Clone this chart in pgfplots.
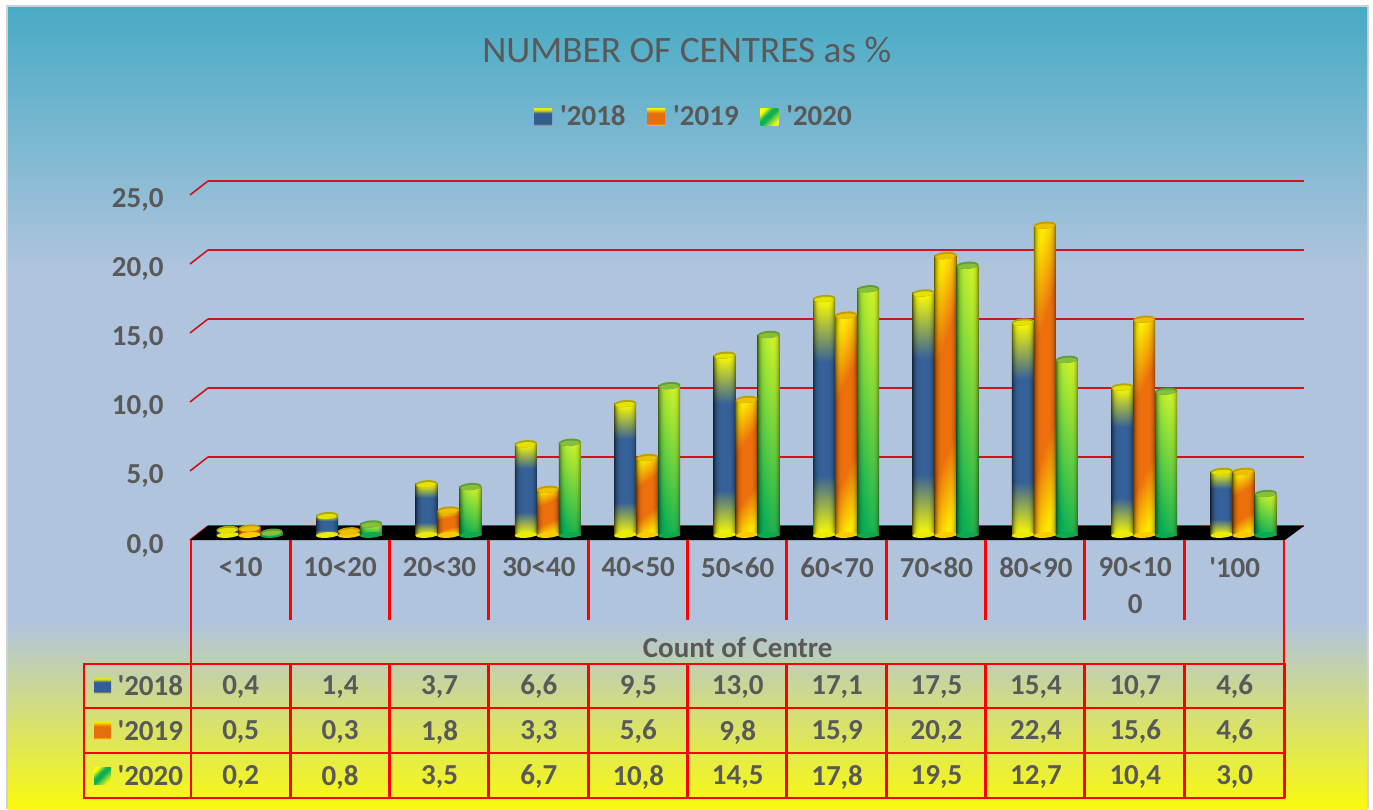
\documentclass[border=0pt]{standalone}
\usepackage{pgfplots}
\usepackage{pgfplotstable}
\usepackage{fontspec}
\pgfplotsset{compat=1.18}
\newfontfamily\carlito{Carlito}
\definecolor{tx}{HTML}{595959}
\definecolor{redl}{HTML}{FF0000}
\definecolor{gridred}{HTML}{D0141E}

\pgfdeclareverticalshading{bgshade}{100bp}{
 rgb(0bp)=(0.98,0.98,0.05);
 rgb(25bp)=(0.98,0.98,0.05);
 rgb(36.6bp)=(0.69,0.77,0.87);
 rgb(58.5bp)=(0.69,0.77,0.87);
 rgb(75bp)=(0.28,0.67,0.77);
 rgb(100bp)=(0.28,0.67,0.77)}

% cylinder bodies: (x,y) -> (r,g,b); the path box is 25..75 of the shading square
\pgfdeclarefunctionalshading{cylA}{\pgfpointorigin}{\pgfpoint{100bp}{100bp}}{}{
 25 sub 2 mul exch 25 sub 2 mul exch
 dup 25 lt {25 div} {dup 73 gt {100 exch sub 27 div} {pop 1} ifelse} ifelse
 exch 50 sub abs 50 div dup mul dup mul 0.55 mul 1 exch sub
 1 index 0.79 mul 1 exch sub 1 index mul
 2 index 0.62 mul 1 exch sub 2 index mul
 3 index 0.6 mul 3 index mul
 5 3 roll pop pop
}
\pgfdeclarefunctionalshading{cylB}{\pgfpointorigin}{\pgfpoint{100bp}{100bp}}{}{
 25 sub 2 mul exch 25 sub 2 mul exch
 1 index 50 sub 0.2 mul sub
 dup 28 lt {28 div} {dup 70 gt {100 exch sub 30 div} {pop 1} ifelse} ifelse
 dup 0 lt {pop 0} {} ifelse
 exch 50 sub abs 50 div dup mul dup mul 0.5 mul 1 exch sub
 1 index 0.07 mul 1 exch sub 1 index mul
 2 index 0.48 mul 0.92 exch sub 2 index mul
 3 index 0.05 mul 3 index mul
 5 3 roll pop pop
}
\pgfdeclarefunctionalshading{cylC}{\pgfpointorigin}{\pgfpoint{100bp}{100bp}}{}{
 25 sub 2 mul exch 25 sub 2 mul exch
 1 index 50 sub 0.3 mul exch 0.9 mul add 100 div
 dup 1 gt {pop 1} {} ifelse
 dup 0 lt {pop 0} {} ifelse
 exch 50 sub abs 50 div dup mul dup mul 0.5 mul 1 exch sub
 1 index 0.8 mul 0.05 add 1 index mul
 2 index 0.28 mul 0.69 add 2 index mul
 3 index -0.18 mul 0.33 add 3 index mul
 5 3 roll pop pop
}
\pgfdeclareverticalshading{keyA}{100bp}{
 rgb(0bp)=(0.8,0.8,0.1); rgb(25bp)=(0.8,0.8,0.1); rgb(30bp)=(0.2,0.36,0.6);
 rgb(62bp)=(0.2,0.36,0.6); rgb(70bp)=(0.85,0.85,0.1); rgb(75bp)=(0.9,0.9,0.1); rgb(100bp)=(0.9,0.9,0.1)}
\pgfdeclareverticalshading{keyB}{100bp}{
 rgb(0bp)=(1,0.85,0); rgb(25bp)=(1,0.85,0); rgb(31bp)=(0.9,0.43,0.05);
 rgb(62bp)=(0.9,0.43,0.05); rgb(75bp)=(1,0.9,0); rgb(100bp)=(1,0.9,0)}
\pgfdeclarehorizontalshading{keyC}{100bp}{
 rgb(0bp)=(1,1,0); rgb(25bp)=(1,1,0); rgb(40bp)=(0.05,0.69,0.33);
 rgb(50bp)=(0.05,0.69,0.33); rgb(75bp)=(0.95,0.97,0.1); rgb(100bp)=(0.95,0.97,0.1)}

% cylinder ends (two-tone tilted ellipses)
\newcommand{\capmark}[3]{\pgfdeclareplotmark{#1}{%
  \pgfsetfillcolor{#2}%
  \pgfpathellipse{\pgfpointorigin}{\pgfpoint{11pt}{0.8pt}}{\pgfpoint{-0.25pt}{3.6pt}}\pgfusepathqfill
  \pgfsetfillcolor{#3}%
  \pgfpathellipse{\pgfpoint{0pt}{-0.9pt}}{\pgfpoint{9.5pt}{0.7pt}}{\pgfpoint{-0.2pt}{2.5pt}}\pgfusepathqfill}}
\newcommand{\basemark}[2]{\pgfdeclareplotmark{#1}{%
  \pgfsetfillcolor{#2}%
  \pgfpathellipse{\pgfpointorigin}{\pgfpoint{11pt}{0.8pt}}{\pgfpoint{-0.2pt}{2.8pt}}\pgfusepathqfill}}
\definecolor{capAb}{HTML}{ABA80F}\definecolor{capAf}{HTML}{E6E200}
\definecolor{capBb}{HTML}{C89A00}\definecolor{capBf}{HTML}{EBC200}
\definecolor{capCb}{HTML}{5F9E35}\definecolor{capCf}{HTML}{86BF3C}
\definecolor{baseAc}{HTML}{EDEB05}\definecolor{baseBc}{HTML}{F8CC00}\definecolor{baseCc}{HTML}{12A850}
\capmark{capA}{capAb}{capAf}
\capmark{capB}{capBb}{capBf}
\capmark{capC}{capCb}{capCf}
\basemark{baseA}{baseAc}
\basemark{baseB}{baseBc}
\basemark{baseC}{baseCc}

\pgfplotstableread{
x  a    b    c    z
0  0.4  0.5  0.2  0
1  1.4  0.3  0.8  0
2  3.7  1.8  3.5  0
3  6.6  3.3  6.7  0
4  9.5  5.6  10.8 0
5  13.0 9.8  14.5 0
6  17.1 15.9 17.8 0
7  17.5 20.2 19.5 0
8  15.4 22.4 12.7 0
9  10.7 15.6 10.4 0
10 4.6  4.6  3.0  0
}\data

\newcommand{\bigf}{\bfseries\fontsize{29}{37}\selectfont}
\newcommand{\tval}[2]{\foreach \v [count=\i from 0] in {#2}{\node[text=tx,font=\bigf] at (240.7+99.4*\i,#1) {\v};}}

\begin{document}\carlito
\begin{tikzpicture}
\path[use as bounding box] (0pt,0pt) rectangle (1373pt,-809pt);
\fill[white] (0pt,0pt) rectangle (1373pt,-809pt);
\begin{scope}[x=1pt,y=-1pt]
\fill[black!18] (6,5) rectangle (1369,809);
\shade[shading=bgshade] (8,7) rectangle (1367,809);
\end{scope}

% back wall with its gridlines
\begin{axis}[
  at={(207.5pt,-526pt)}, anchor=south west, scale only axis,
  width=1096pt, height=345pt,
  xmin=0, xmax=1, ymin=0, ymax=25,
  axis line style={draw=none}, xtick=\empty, ytick={0,5,...,25},
  yticklabels={}, major tick length=0pt,
  ymajorgrids, grid style={gridred,line width=1.8pt},
]
\addplot[draw=none,forget plot] coordinates {(0,0) (1,25)};
\end{axis}

\begin{scope}[x=1pt,y=-1pt]
\foreach \v in {0,69,138,207,276,345}{
  \draw[gridred,line width=1.6pt] (190,540-\v) -- (208,526-\v);}
\fill[black] (190,540) -- (208,526) -- (1304,526) -- (1285,540) -- cycle;
\end{scope}

% the cylinders
\begin{axis}[
  at={(191pt,-535pt)}, anchor=south west, scale only axis, clip=false,
  width=1093.4pt, height=345.75pt,
  xmin=-0.59, xmax=10.41, ymin=0, ymax=25,
  axis line style={draw=none}, major tick length=0pt,
  ytick={0,5,...,25},
  yticklabel style={text=tx,font=\bigf,xshift=-24pt,yshift=-10.5pt,
    /pgf/number format/.cd,fixed,fixed zerofill,precision=1,use comma,assume math mode=true},
  xtick={-0.09,0.91,1.91,2.91,3.91,4.91,5.91,6.91,7.91,8.91,9.91},
  xticklabels={{<10},{10<20},{20<30},{30<40},{40<50},{50<60},{60<70},{70<80},{80<90},{90<10\\0},{'100}},
  xticklabel style={text=tx,font=\bigf,align=center,text width=95pt,anchor=north,yshift=-19pt},
  xlabel={Count of Centre},
  xlabel style={text=tx,font=\bfseries\fontsize{29}{34}\selectfont,at={(axis description cs:0.5,-0.324)},anchor=center},
  title={NUMBER OF CENTRES as \%},
  title style={text=tx,font=\fontsize{37.3}{44}\selectfont,at={(axis description cs:0.4535,1.386)},anchor=center},
  legend columns=3,
  legend style={at={(axis description cs:0.460,1.21)},anchor=center,draw=none,fill=none,
    text=tx,font=\bigf,/tikz/every even column/.append style={column sep=19.5pt},
    /tikz/every odd column/.append style={column sep=6pt}},
]
\addlegendimage{legend image code/.code={\shade[draw=none,shading=keyA] (0pt,-9pt) rectangle (18pt,8pt);}}
\addlegendentry{'2018}
\addlegendimage{legend image code/.code={\shade[draw=none,shading=keyB] (0pt,-9pt) rectangle (18pt,8pt);}}
\addlegendentry{'2019}
\addlegendimage{legend image code/.code={\shade[draw=none,shading=keyC,shading angle=-45] (0pt,-9pt) rectangle (18pt,8pt);}}
\addlegendentry{'2020}

\addplot[only marks,mark=baseA,xshift=-22pt,forget plot] table[x=x,y=z] {\data};
\pgfplotsinvokeforeach{0,...,10}{
\addplot[ybar,bar width=22pt,bar shift=-22pt,draw=none,shade,shading=cylA,forget plot,restrict x to domain=#1:#1] table[x=x,y=a] {\data};
}
\addplot[only marks,mark=capA,xshift=-22pt,forget plot] table[x=x,y=a] {\data};
\addplot[only marks,mark=baseB,forget plot] table[x=x,y=z] {\data};
\pgfplotsinvokeforeach{0,...,10}{
\addplot[ybar,bar width=22pt,bar shift=0pt,draw=none,shade,shading=cylB,forget plot,restrict x to domain=#1:#1] table[x=x,y=b] {\data};
}
\addplot[only marks,mark=capB,forget plot] table[x=x,y=b] {\data};
\addplot[only marks,mark=baseC,xshift=22pt,forget plot] table[x=x,y=z] {\data};
\pgfplotsinvokeforeach{0,...,10}{
\addplot[ybar,bar width=22pt,bar shift=22pt,draw=none,shade,shading=cylC,forget plot,restrict x to domain=#1:#1] table[x=x,y=c] {\data};
}
\addplot[only marks,mark=capC,xshift=22pt,forget plot] table[x=x,y=c] {\data};
\end{axis}

% data table under the chart
\begin{scope}[x=1pt,y=-1pt]
\foreach \i in {1,...,10}{
  \draw[redl,line width=3pt] (191+99.3*\i,540) -- (191+99.3*\i,620);
  \draw[redl,line width=3pt] (191+99.3*\i,663) -- (191+99.3*\i,798);}
\draw[redl,line width=2.4pt] (191,540) -- (191,798);
\draw[redl,line width=2pt] (1284,540) -- (1284,663);
\draw[redl,line width=3pt] (1284,663) -- (1284,798);
\foreach \y in {664,708,753}{\draw[redl,line width=2pt] (84,\y) -- (1284,\y);}
\draw[redl,line width=2.4pt] (84,798) -- (1285,798);
\draw[redl,line width=2pt] (84,663) -- (84,799);
\shade[shading=keyA] (94,678) rectangle (111,693);
\shade[shading=keyB] (94,722) rectangle (111,739);
\shade[shading=keyC,shading angle=-45] (94,767) rectangle (111,784);
\node[text=tx,font=\bigf,anchor=west] at (114,686) {'2018};
\node[text=tx,font=\bigf,anchor=west] at (114,731) {'2019};
\node[text=tx,font=\bigf,anchor=west] at (114,776) {'2020};
\tval{687}{{0,4},{1,4},{3,7},{6,6},{9,5},{13,0},{17,1},{17,5},{15,4},{10,7},{4,6}}
\tval{732}{{0,5},{0,3},{1,8},{3,3},{5,6},{9,8},{15,9},{20,2},{22,4},{15,6},{4,6}}
\tval{777}{{0,2},{0,8},{3,5},{6,7},{10,8},{14,5},{17,8},{19,5},{12,7},{10,4},{3,0}}
\end{scope}
\end{tikzpicture}
\end{document}
